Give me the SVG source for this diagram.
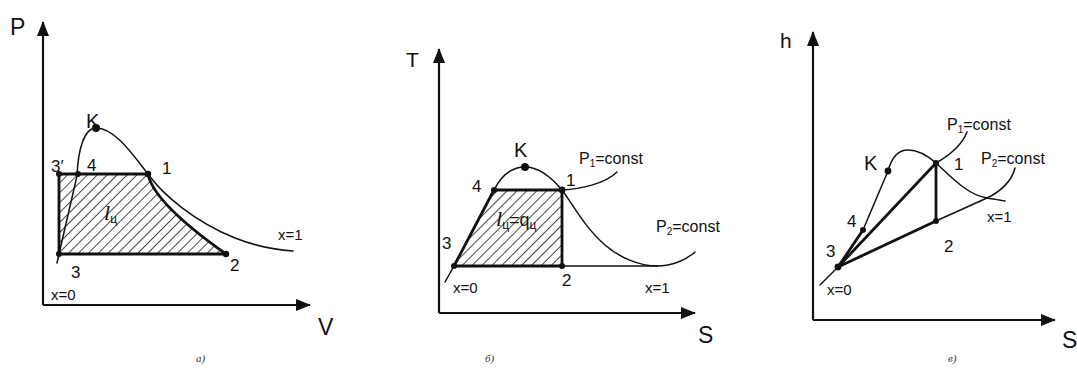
<svg xmlns="http://www.w3.org/2000/svg" width="1077" height="378" viewBox="0 0 1077 378">
<style>
.ax{stroke:#111;stroke-width:2.2;fill:none}
.thick{stroke:#111;stroke-width:2.8;fill:none;stroke-linecap:round;stroke-linejoin:round}
.thin{stroke:#111;stroke-width:1.5;fill:none;stroke-linecap:round}
.dot{fill:#111}
.t{font-family:"Liberation Sans",Arial,sans-serif;fill:#111}
.big{font-size:23px}
.k{font-size:20px}
.n{font-size:17px}
.s{font-size:15px}
.c{font-size:16px}
.sub{font-family:"Liberation Serif",serif;font-style:italic;font-size:11px;fill:#333}
.li{font-family:"Liberation Serif",serif;font-style:italic;font-size:22px;fill:#111}
.hatch{fill:url(#h);stroke:none}
</style>
<defs>
<marker id="arr" markerUnits="userSpaceOnUse" markerWidth="15" markerHeight="12" refX="14" refY="6" orient="auto">
<path d="M0,0 L15,6 L0,12 Z" fill="#111"/>
</marker>
<pattern id="h" patternUnits="userSpaceOnUse" width="7" height="7" patternTransform="rotate(-45)">
<line x1="0" y1="3.5" x2="7" y2="3.5" stroke="#333" stroke-width="0.9"/>
</pattern>
</defs>
<rect width="1077" height="378" fill="#fff"/>

<!-- Panel a: P-V -->
<g id="panel-a">
<path class="hatch" d="M59,174 L148,174 C152,195 185,225 226,254 L59,254 Z"/>
<g id="connectors-a">
<line class="ax" x1="43" y1="305" x2="43" y2="22" marker-end="url(#arr)"/>
<line class="ax" x1="43" y1="305" x2="310" y2="305" marker-end="url(#arr)"/>
<path class="thin" d="M57,263 L59,254 L77,176 C78,150 84,128 96,128 C115,128 133,155 148,174 C163,195 195,222 235,238 C258,247 278,250 293,251"/>
<path class="thick" d="M59,174 L148,174 C152,195 185,225 226,254 L59,254 Z"/>
</g>
<g id="a-K"><circle class="dot" cx="96" cy="128" r="4"/><text class="t k" x="86" y="128">K</text></g>
<g id="a-3p"><circle class="dot" cx="59" cy="174" r="3"/><text class="t n" x="51" y="172">3′</text></g>
<g id="a-4"><circle class="dot" cx="78" cy="174" r="3"/><text class="t n" x="87" y="171">4</text></g>
<g id="a-1"><circle class="dot" cx="148" cy="174" r="3.2"/><text class="t n" x="162" y="174">1</text></g>
<g id="a-3"><circle class="dot" cx="59" cy="254" r="3"/><text class="t n" x="71" y="278">3</text></g>
<g id="a-2"><circle class="dot" cx="226" cy="254" r="3.2"/><text class="t n" x="230" y="271">2</text></g>
<text class="t big" x="10" y="35">P</text>
<text class="t big" x="318" y="335">V</text>
<text class="t s" x="51" y="300">x=0</text>
<text class="t s" x="278" y="240">x=1</text>
<text class="li" x="104" y="220">l<tspan class="t" font-style="normal" font-size="12" dy="3">ц</tspan></text>
<text class="sub" x="196" y="362">а)</text>
</g>

<!-- Panel b: T-S -->
<g id="panel-b">
<path class="hatch" d="M454,266 L494,190 L562,190 L562,266 Z"/>
<g id="connectors-b">
<line class="ax" x1="439" y1="313" x2="439" y2="49" marker-end="url(#arr)"/>
<line class="ax" x1="439" y1="313" x2="695" y2="313" marker-end="url(#arr)"/>
<path class="thin" d="M445,282 L454,266"/>
<path class="thin" d="M562,266 L657,266"/>
<path class="thin" d="M494,190 C503,172 514,167 525,167 C540,167 552,178 562,190 C572,203 585,228 605,245 C620,258 640,266 657,266"/>
<path class="thin" d="M657,266 C672,266 686,260 695,252"/>
<path class="thin" d="M562,190 C580,189 605,184 617,172"/>
<path class="thick" d="M454,266 L494,190 L562,190 L562,266 Z"/>
</g>
<g id="b-K"><circle class="dot" cx="525" cy="167" r="4"/><text class="t k" x="514" y="157">K</text></g>
<g id="b-4"><circle class="dot" cx="494" cy="190" r="3"/><text class="t n" x="472" y="192">4</text></g>
<g id="b-1"><circle class="dot" cx="562" cy="190" r="3.4"/><text class="t n" x="566" y="186">1</text></g>
<g id="b-3"><circle class="dot" cx="454" cy="266" r="3"/><text class="t n" x="442" y="249">3</text></g>
<g id="b-2"><circle class="dot" cx="562" cy="266" r="3"/><text class="t n" x="562" y="286">2</text></g>
<text class="t" font-size="21" x="406" y="67">T</text>
<text class="t big" x="698" y="343">S</text>
<text class="t s" x="453" y="293">x=0</text>
<text class="t s" x="645" y="293">x=1</text>
<text class="t c" x="579" y="164">P<tspan font-size="10" dy="3">1</tspan><tspan dy="-3">=const</tspan></text>
<text class="t c" x="656" y="232">P<tspan font-size="10" dy="3">2</tspan><tspan dy="-3">=const</tspan></text>
<text class="li" x="496" y="226">l<tspan class="t" font-style="normal" font-size="12" dy="3">ц</tspan><tspan class="t" font-style="normal" font-size="18" dy="-3">=q</tspan><tspan class="t" font-style="normal" font-size="12" dy="3">ц</tspan></text>
<text class="sub" x="485" y="362">б)</text>
</g>

<!-- Panel c: h-S -->
<g id="panel-c">
<g id="connectors-c">
<line class="ax" x1="813" y1="320" x2="813" y2="32" marker-end="url(#arr)"/>
<line class="ax" x1="813" y1="320" x2="1055" y2="320" marker-end="url(#arr)"/>
<path class="thin" d="M820,285 L838,267"/>
<path class="thin" d="M863,230 L888,171"/>
<path class="thin" d="M936,221 L987,198"/>
<path class="thin" d="M888,171 C892,156 899,150 908,150 C918,150 928,156 936,163 C952,178 968,195 987,198 C993,199 1000,200 1005,201"/>
<path class="thin" d="M936,163 C950,155 962,145 967,132"/>
<path class="thin" d="M987,198 C1000,192 1012,181 1015,168"/>
<path class="thick" d="M838,267 L936,163 L936,221 Z"/>
<path class="thick" d="M838,267 L863,230"/>
</g>
<g id="c-K"><circle class="dot" cx="888" cy="171" r="3.4"/><text class="t k" x="864" y="170">K</text></g>
<g id="c-4"><circle class="dot" cx="863" cy="230" r="3"/><text class="t n" x="847" y="227">4</text></g>
<g id="c-3"><circle class="dot" cx="838" cy="267" r="3.4"/><text class="t n" x="826" y="257">3</text></g>
<g id="c-1"><circle class="dot" cx="936" cy="163" r="3"/><text class="t n" x="954" y="170">1</text></g>
<g id="c-2"><circle class="dot" cx="936" cy="221" r="3"/><text class="t n" x="944" y="252">2</text></g>
<text class="t" font-size="21" x="780" y="48">h</text>
<text class="t big" x="1062" y="348">S</text>
<text class="t s" x="827" y="295">x=0</text>
<text class="t s" x="987" y="222">x=1</text>
<text class="t c" x="947" y="130">P<tspan font-size="10" dy="3">1</tspan><tspan dy="-3">=const</tspan></text>
<text class="t c" x="981" y="164">P<tspan font-size="10" dy="3">2</tspan><tspan dy="-3">=const</tspan></text>
<text class="sub" x="948" y="362">в)</text>
</g>
</svg>
